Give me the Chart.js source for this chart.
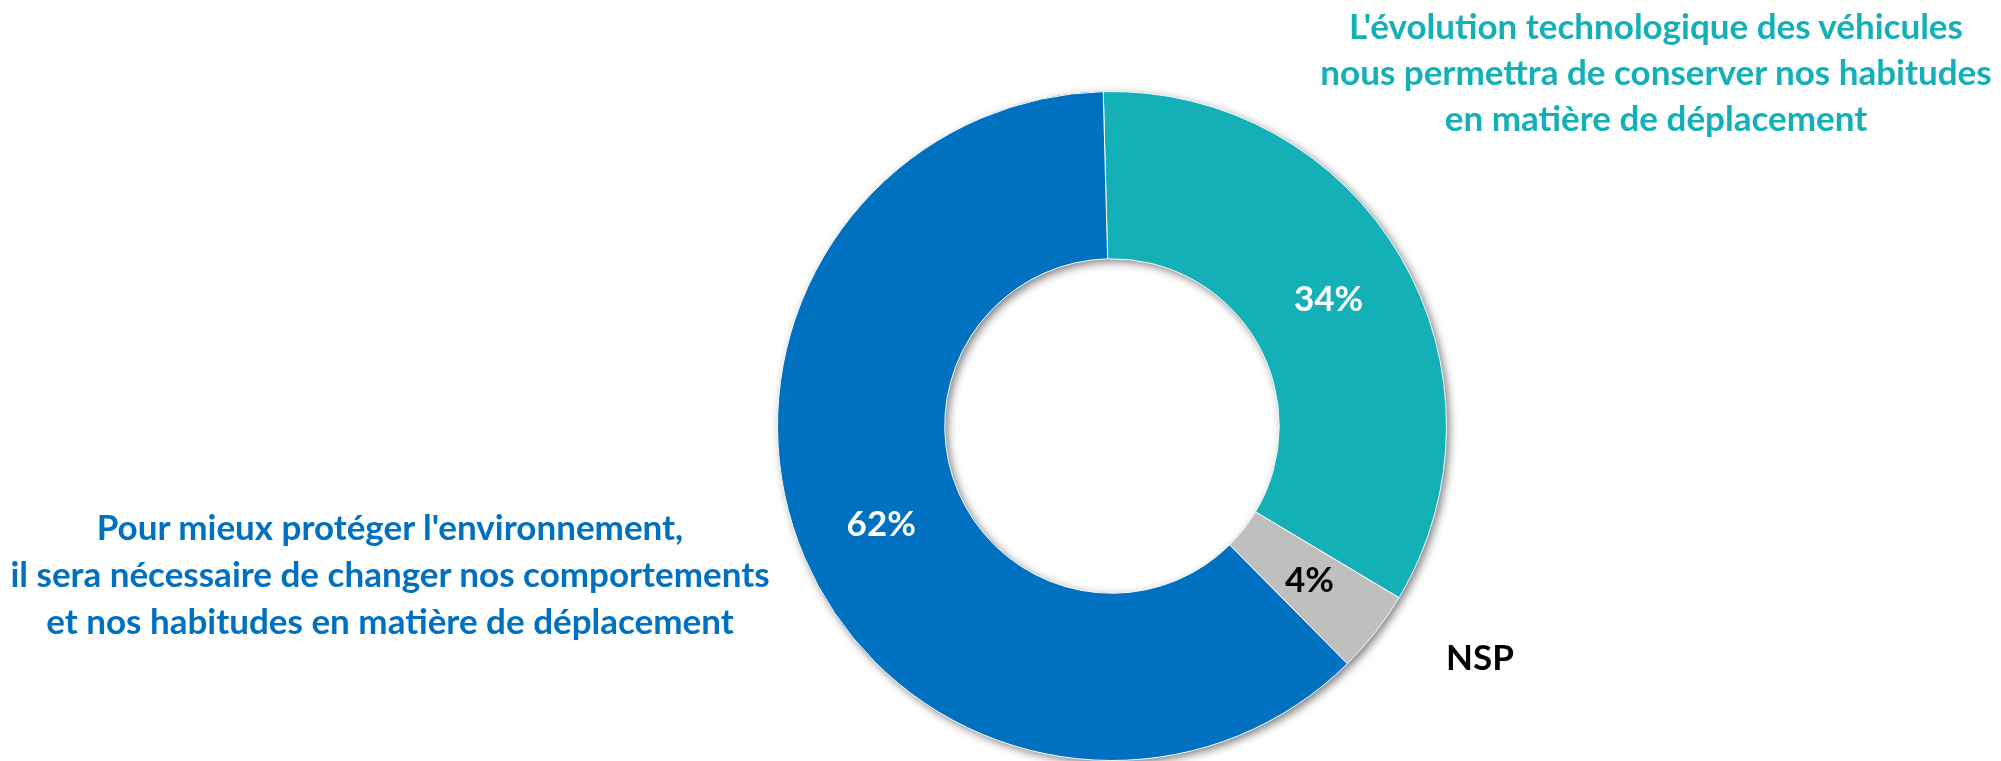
<!DOCTYPE html>
<html>
<head>
<meta charset="utf-8">
<script src="https://cdn.jsdelivr.net/npm/chart.js@4"></script>
<style>
  html, body { margin: 0; padding: 0; background: #fff; }
  #wrap { position: relative; width: 2001px; height: 761px; overflow: hidden; }
  #myChart { position: absolute; left: 0; top: 0; }
  .lbl { position: absolute; font-family: Lato, sans-serif; font-weight: bold; text-align: center; white-space: nowrap; transform: translateX(-50%); }
</style>
</head>
<body>
<div id="wrap">
  <canvas id="myChart" width="2001" height="761"></canvas>
  <div class="lbl" id="lblTeal" style="left:1656px; top:2px; font-size:35px; line-height:46px; color:#14B0B8;"></div>
  <div class="lbl" id="lblBlue" style="left:390px; top:503px; font-size:35px; line-height:47px; color:#0070C0;"></div>
  <div class="lbl" id="lblNsp" style="left:1480px; top:633px; font-size:35px; line-height:46px; color:#000;"></div>
</div>
<script>
// values
var categories = [
    "L'évolution technologique des véhicules\nnous permettra de conserver nos habitudes\nen matière de déplacement",
    "NSP",
    "Pour mieux protéger l'environnement,\nil sera nécessaire de changer nos comportements\net nos habitudes en matière de déplacement"
];
var values = [34, 4, 62];
var sliceColors = ['#14B0B8', '#BFBFBF', '#0070C0'];
var valueColors = ['#ffffff', '#000000', '#ffffff'];

// category labels as html text
function setLabel(id, text) {
    document.getElementById(id).innerHTML = text.split('\n').join('<br>');
}
setLabel('lblTeal', categories[0]);
setLabel('lblNsp', categories[1]);
setLabel('lblBlue', categories[2]);

// soft shadow under the whole ring, drawn once so the slices don't shade each other
var ringShadow = {
    id: 'ringShadow',
    beforeDatasetsDraw: function (chart) {
        var arc = chart.getDatasetMeta(0).data[0];
        if (!arc) return;
        var ctx = chart.ctx;
        ctx.save();
        ctx.shadowColor = 'rgba(0,0,0,0.5)';
        ctx.shadowBlur = 8;
        ctx.shadowOffsetX = 3;
        ctx.shadowOffsetY = 3;
        ctx.fillStyle = '#0070C0';
        ctx.beginPath();
        ctx.arc(arc.x, arc.y, arc.outerRadius, 0, Math.PI * 2);
        ctx.arc(arc.x, arc.y, arc.innerRadius, Math.PI * 2, 0, true);
        ctx.closePath();
        ctx.fill('evenodd');
        ctx.restore();
    }
};

// percentage labels in the middle of each slice
var sliceValues = {
    id: 'sliceValues',
    afterDatasetsDraw: function (chart) {
        var ctx = chart.ctx;
        var meta = chart.getDatasetMeta(0);
        ctx.save();
        ctx.font = 'bold 35px Lato';
        ctx.textAlign = 'center';
        ctx.textBaseline = 'middle';
        meta.data.forEach(function (arc, i) {
            var p = arc.tooltipPosition();
            ctx.fillStyle = valueColors[i];
            ctx.fillText(values[i] + '%', p.x, p.y);
        });
        ctx.restore();
    }
};

function createChart() {
    var ctx = document.getElementById("myChart").getContext("2d");
    new Chart(ctx, {
        type: 'doughnut',
        data: {
            labels: categories,
            datasets: [{
                data: values,
                backgroundColor: sliceColors,
                borderColor: '#ffffff',
                borderWidth: 1
            }]
        },
        options: {
            responsive: false,
            animation: false,
            cutout: '50%',
            rotation: -1.5,
            layout: { padding: { left: 777, right: 554, top: 91, bottom: 0 } },
            plugins: {
                legend: { display: false },
                tooltip: { enabled: false }
            }
        },
        plugins: [ringShadow, sliceValues]
    });
}
createChart();
</script>
</body>
</html>
